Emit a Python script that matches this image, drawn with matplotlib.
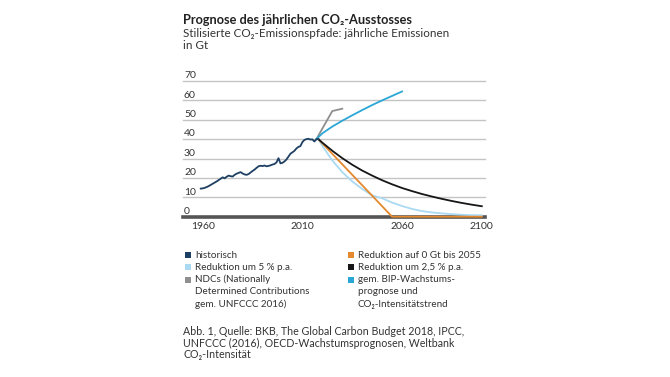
import matplotlib
matplotlib.use("Agg")
import matplotlib.pyplot as plt
from matplotlib.patches import Rectangle

plt.rcParams['font.family'] = ['Lato', 'DejaVu Sans']

# historical emissions (Gt CO2)
hist_years = list(range(1959, 2019))
hist_vals = [14.5, 14.6, 14.9, 15.3, 15.8, 16.4, 17.0, 17.6, 18.2, 18.9,
             19.6, 20.3, 19.8, 20.6, 21.2, 20.9, 20.7, 21.6, 22.2, 22.6,
             23.0, 22.3, 21.8, 21.6, 22.0, 22.8, 23.6, 24.3, 25.2, 26.0,
             26.3, 26.1, 26.4, 26.0, 26.2, 26.5, 26.9, 27.2, 28.0, 30.2,
             27.5, 27.8, 28.5, 29.5, 31.0, 32.5, 33.2, 34.0, 35.2, 36.0,
             36.4, 38.5, 39.6, 40.0, 40.2, 39.8, 39.9, 38.8, 40.0, 40.0]

# NDCs
ndc_years = [2017, 2025, 2030]
ndc_vals = [40, 54.5, 55.7]

# BIP growth / CO2 intensity trend
bip_years = [2017, 2020, 2025, 2030, 2035, 2040, 2045, 2050, 2055, 2060]
bip_vals = [40, 43, 46.5, 49.5, 52.3, 55, 57.6, 60, 62.3, 64.6]

proj_years = [2018, 2020, 2025, 2030, 2035, 2040, 2045, 2050, 2055,
              2060, 2065, 2070, 2075, 2080, 2085, 2090, 2095, 2100]
# reduction 2.5 % p.a.
red25_vals = [40, 38.2, 34, 30.2, 26.8, 23.8, 21.2, 18.8, 16.7,
              14.8, 13.2, 11.7, 10.4, 9.2, 8.1, 7.1, 6.2, 5.4]
# reduction 5 % p.a.
red5_vals = [40, 36.5, 29, 23, 18.2, 14.3, 11, 9.5, 7.3,
             5.5, 4.0, 2.9, 2.2, 1.7, 1.3, 1.0, 0.8, 0.7]
# reduction to 0 Gt by 2055
zero_years = [2018, 2055, 2100]
zero_vals = [40, 0, 0]

yticks = [0, 10, 20, 30, 40, 50, 60, 70]
xticks = [1960, 2010, 2060, 2100]

C_HIST = '#1d3f63'
C_RED5 = '#a9daf2'
C_NDC = '#8f8f8f'
C_ZERO = '#e5892e'
C_RED25 = '#161616'
C_BIP = '#2aa7d6'
TXT = '#333333'

W, H = 670, 377
fig = plt.figure(figsize=(6.7, 3.77), dpi=100)
ax = fig.add_axes([183 / W, 1 - 216.7 / H, (485 - 183) / W, (216.7 - 81) / H])
ax.set_xlim(1950.1, 2101.6)
ax.set_ylim(0, 70)
for s in ax.spines.values():
    s.set_visible(False)
ax.set_yticks(yticks)
ax.set_yticklabels([])
ax.tick_params(axis='y', length=0)
ax.yaxis.grid(True, color='#c4c4c4', lw=1.0)
ax.set_axisbelow(True)
for gl in ax.get_ygridlines():
    gl.set_clip_on(False)
ax.set_xticks(xticks)
ax.set_xticklabels([str(x) for x in xticks], fontsize=7.5, color=TXT)
ax.tick_params(axis='x', length=0, pad=3.5)

for v in yticks:
    ax.text(1950.6, v + 0.4, str(v), fontsize=7.5, color=TXT, va='bottom', ha='left')
ax.axhline(0, color='#555555', lw=2.6, clip_on=False, zorder=2)

lw = 1.3
ax.plot(ndc_years, ndc_vals, color=C_NDC, lw=lw, zorder=3)
ax.plot(bip_years, bip_vals, color=C_BIP, lw=lw, zorder=3)
ax.plot(proj_years, red5_vals, color=C_RED5, lw=lw, zorder=3, clip_on=False)
ax.plot(zero_years, zero_vals, color=C_ZERO, lw=lw, zorder=4, clip_on=False)
ax.plot(proj_years, red25_vals, color=C_RED25, lw=lw, zorder=4)
ax.plot(hist_years, hist_vals, color=C_HIST, lw=lw, zorder=5)

# title block
fig.text(183 / W, 1 - 20 / H, 'Prognose des jährlichen CO₂-Ausstosses',
         fontsize=9.2, fontweight='bold', color='#222222', va='center')
fig.text(183 / W, 1 - 33.5 / H, 'Stilisierte CO₂-Emissionspfade: jährliche Emissionen',
         fontsize=8.4, color=TXT, va='center')
fig.text(183 / W, 1 - 45.5 / H, 'in Gt', fontsize=8.4, color=TXT, va='center')

# legend
leg_left = [(C_HIST, ['historisch']),
            (C_RED5, ['Reduktion um 5 % p.a.']),
            (C_NDC, ['NDCs (Nationally', 'Determined Contributions', 'gem. UNFCCC 2016)'])]
leg_right = [(C_ZERO, ['Reduktion auf 0 Gt bis 2055']),
             (C_RED25, ['Reduktion um 2,5 % p.a.']),
             (C_BIP, ['gem. BIP-Wachstums-', 'prognose und', 'CO₂-Intensitätstrend'])]
row_h = 12.3
for col_x, items in [(185, leg_left), (347.5, leg_right)]:
    y = 255
    for color, lines in items:
        fig.add_artist(Rectangle((col_x / W, 1 - (y + 3) / H), 6 / W, 6 / H,
                                 transform=fig.transFigure, color=color, lw=0))
        for ln in lines:
            fig.text((col_x + 10) / W, 1 - y / H, ln, fontsize=7.1, color=TXT, va='center')
            y += row_h

# source
src = ['Abb. 1, Quelle: BKB, The Global Carbon Budget 2018, IPCC,',
       'UNFCCC (2016), OECD-Wachstumsprognosen, Weltbank',
       'CO₂-Intensität']
for i, ln in enumerate(src):
    fig.text(183 / W, 1 - (331.7 + i * 11.3) / H, ln, fontsize=7.7, color=TXT, va='center')

fig.savefig('out.png', dpi=100)
